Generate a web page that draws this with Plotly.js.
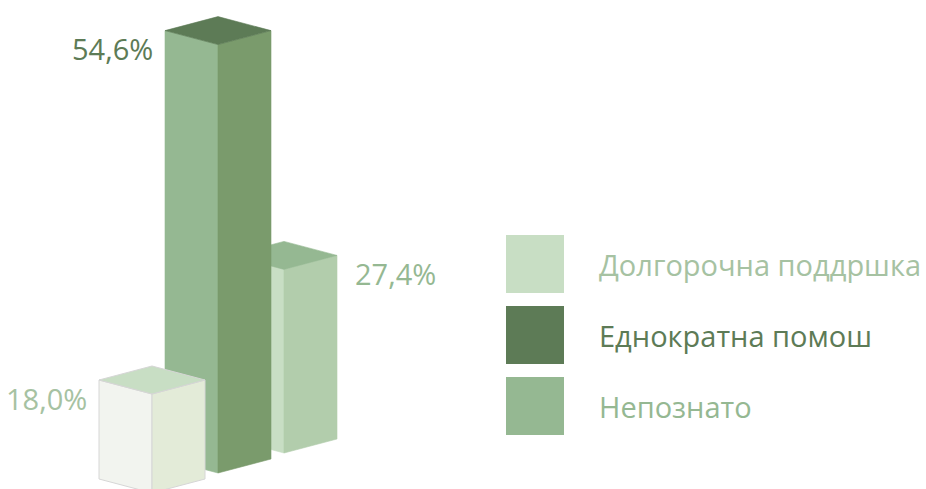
<!DOCTYPE html>
<html>
<head>
<meta charset="utf-8">
<script src="https://cdn.plot.ly/plotly-3.0.1.min.js"></script>
<style>html,body{margin:0;padding:0;background:#fff;}#chart{width:926px;height:489px;}</style>
</head>
<body>
<div id="chart"></div>
<script>
// ---- data ----
const categories = ['Долгорочна поддршка', 'Еднократна помош', 'Непознато'];
const values = [18.0, 54.6, 27.4];
const valueLabels = ['18,0%', '54,6%', '27,4%'];

// ---- styles ----
const topColors   = ['#C8DEC4', '#5D7B56', '#95B892'];
const leftColors  = ['#F2F4EF', '#95B892', '#C8DEC4'];
const rightColors = ['#E3EBD8', '#7A9B6C', '#B2CDAC'];
const edgeColors  = ['#D6D6D6', null, null];
const legendColors = ['#C8DEC4', '#5D7B56', '#95B892'];
const textColors  = ['#A6C2A2', '#5D7B56', '#95B892'];

// ---- geometry (axis units) ----
const X0 = 152, STEP = 66, HALF_W = 53;
const FLOOR = 7;            // value axis floor
const DEPTH = 20 / 9;       // vertical shift per depth row
const TOPDY = 14 / 9;       // half-height of top face
const FONT = 'Open Sans, sans-serif';
const FS = 29;

const traces = [];
const annotations = [];

function poly(xs, ys, fill, edge) {
  traces.push({
    type: 'scatter', mode: 'lines', fill: 'toself',
    x: xs, y: ys, fillcolor: fill,
    line: {color: edge || fill, width: edge ? 1 : 0.6},
    hoverinfo: 'skip'
  });
}

const order = [2, 1, 0];
order.forEach(i => {
  const cx = X0 + i * STEP, L = cx - HALF_W, R = cx + HALF_W;
  const b = i * DEPTH;
  const t = b + (values[i] - FLOOR);
  poly([L, cx, cx, L, L], [t + TOPDY, t, b, b + TOPDY, t + TOPDY], leftColors[i], edgeColors[i]);
  poly([cx, R, R, cx, cx], [t, t + TOPDY, b + TOPDY, b, t], rightColors[i], edgeColors[i]);
  poly([L, cx, R, cx, L], [t + TOPDY, t + 2 * TOPDY, t + TOPDY, t, t + TOPDY], topColors[i], edgeColors[i]);
  const right = (i === 2);
  annotations.push({
    x: right ? R + 16 : L - 10, y: t - 0.45,
    xref: 'x', yref: 'y', showarrow: false,
    xanchor: right ? 'left' : 'right', yanchor: 'middle',
    text: valueLabels[i],
    font: {family: FONT, size: FS, color: textColors[i]}
  });
});

// ---- legend ----
const LEG_X = 535, LEG_TX = 597, LEG_Y0 = 25.44, LEG_STEP = 7.89;
traces.push({
  type: 'scatter', mode: 'markers',
  x: categories.map(() => LEG_X),
  y: categories.map((c, i) => LEG_Y0 - i * LEG_STEP),
  marker: {symbol: 'square', size: 58, color: legendColors, line: {width: 0}},
  hoverinfo: 'skip', cliponaxis: false
});
categories.forEach((c, i) => {
  annotations.push({
    x: LEG_TX, y: LEG_Y0 - i * LEG_STEP, xref: 'x', yref: 'y',
    showarrow: false, xanchor: 'left', yanchor: 'middle',
    text: c, font: {family: FONT, size: FS, color: textColors[i]}
  });
});

const layout = {
  width: 926, height: 489,
  margin: {l: 0, r: 0, t: 0, b: 0},
  paper_bgcolor: '#ffffff', plot_bgcolor: '#ffffff',
  showlegend: false, hovermode: false,
  xaxis: {range: [0, 926], visible: false, fixedrange: true},
  yaxis: {range: [4 / 9, 493 / 9], visible: false, fixedrange: true},
  annotations: annotations
};

Plotly.newPlot('chart', traces, layout, {displayModeBar: false, staticPlot: true});
</script>
</body>
</html>
